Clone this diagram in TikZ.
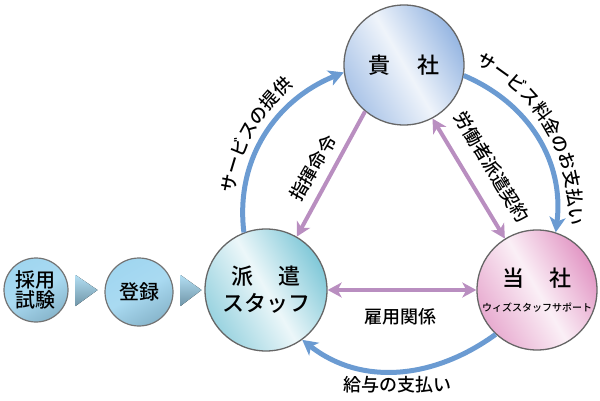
\documentclass[tikz,border=0pt]{standalone}
\usepackage{fontspec}
\setmainfont{Noto Sans CJK JP}[UprightFont={* Medium}, BoldFont={* Bold}]
\usepackage{xcolor}
\usepackage{tikz}
\usetikzlibrary{shapes.geometric, arrows.meta, positioning, calc, decorations.text}

\definecolor{payblue}{RGB}{107,155,210}
\definecolor{orderpurple}{RGB}{185,142,192}
\definecolor{clientblue}{RGB}{150,182,226}
\definecolor{staffteal}{RGB}{128,200,216}
\definecolor{companypink}{RGB}{226,150,196}
\definecolor{stepblue}{RGB}{160,214,240}

\begin{document}
\begin{tikzpicture}[x=1pt, y=1pt,
    party/.style={circle, draw=black!60, line width=1.3pt, minimum size=120pt, inner sep=0pt, align=center, font=\fontsize{22}{27}\selectfont},
    stepnode/.style={circle, draw=black!55, line width=1.2pt, minimum size=64pt, inner sep=0pt, align=center, font=\fontsize{20}{23}\selectfont, top color=stepblue, bottom color=stepblue!85!black, middle color=stepblue!90!white, shading angle=30},
    money/.style={draw=payblue, line width=5pt, -{Stealth[length=15pt, width=16pt, inset=4pt]}},
    order/.style={draw=orderpurple, line width=4pt, -{Stealth[length=14pt, width=15pt, inset=4pt]}},
    contract/.style={order, {Stealth[length=14pt, width=15pt, inset=4pt]}-{Stealth[length=14pt, width=15pt, inset=4pt]}},
    flowlabel/.style={font=\fontsize{18}{20}\selectfont, inner sep=0pt},
    arclabel/.style={decorate, decoration={text along path, text align=center, text={|\fontsize{18}{20}\selectfont|#1}}},
    marker/.style={top color=stepblue!80!white, bottom color=stepblue!70!black, draw=none}
  ]
    \useasboundingbox (0,0) rectangle (600,400);

    \node (client) [party, top color=clientblue, bottom color=clientblue!80, middle color=white!85!clientblue, shading angle=-60] at (404,335) {貴\hspace{1.2em}社};
    \node (company) [party, top color=companypink, bottom color=companypink!80, middle color=white!85!companypink, shading angle=-60] at (537,110)
        {当\hspace{1.1em}社\\[-2pt]{\fontsize{10}{12}\selectfont ウィズスタッフサポート}};
    \node (staff) [party, minimum size=122pt, top color=staffteal, bottom color=staffteal!80, middle color=white!85!staffteal, shading angle=-60] at (266,110)
        {派\hspace{1.1em}遣\\スタッフ};

    \node (exam) [stepnode] at (36,110) {採用\\[-3pt]試験};
    \node (entry) [stepnode, minimum size=68pt] at (139,108) {登録};

    \fill[marker] ($(exam.east)+(7,15)$) -- ++(22,-15) -- ++(-22,-16) -- cycle;
    \fill[marker] ($(entry.east)+(7,17)$) -- ++(21,-15) -- ++(-21,-16) -- cycle;

    \draw[money] (staff.111) to[out=97, in=202] (client.187);
    \draw[money] (client.-10) to[out=-23, in=83] (company.72);
    \draw[money] (company.227) to[out=-144, in=-38] (staff.-54);

    \draw[order] (client.230) -- (staff.60);
    \draw[contract] (client.-62) -- (company.122);
    \draw[contract] (staff.east) -- (company.west);

    \coordinate (hub) at (400,185);
    \path[arclabel=サービスの提供] (hub) ++(197:167) arc[start angle=197, end angle=105, radius=167];
    \path[arclabel=サービス料金のお支払い] (hub) ++(75:169) arc[start angle=75, end angle=-15, radius=169];
    \path[arclabel=指揮命令] (299,194) -- (339,263);
    \path[arclabel=労働者派遣契約] (453,284) -- (519,175);

    \node (employ) [flowlabel] at (400,83) {雇用関係};
    \node (salary) [flowlabel] at (397,15) {給与の支払い};
\end{tikzpicture}
\end{document}
